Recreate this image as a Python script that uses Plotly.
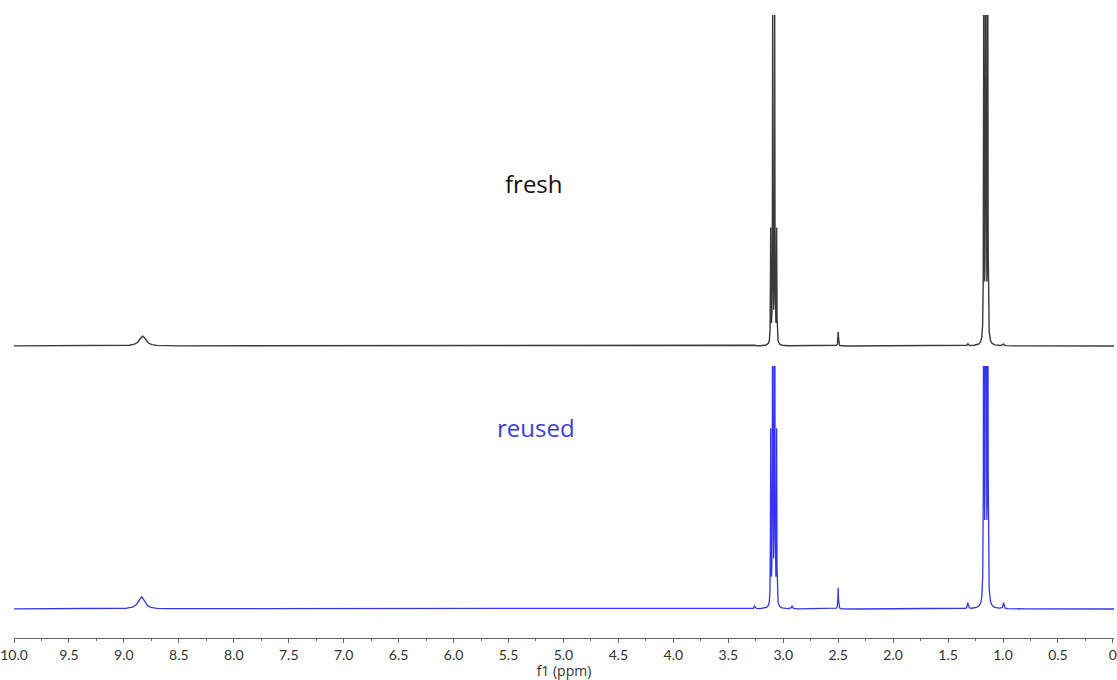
import numpy as np
import plotly.graph_objects as go

# ---------------- data ----------------
TICK_VALUES = [10.0, 9.5, 9.0, 8.5, 8.0, 7.5, 7.0, 6.5, 6.0, 5.5, 5.0,
               4.5, 4.0, 3.5, 3.0, 2.5, 2.0, 1.5, 1.0, 0.5, 0.0]
TICK_LABELS = ["10.0", "9.5", "9.0", "8.5", "8.0", "7.5", "7.0", "6.5", "6.0", "5.5", "5.0",
               "4.5", "4.0", "3.5", "3.0", "2.5", "2.0", "1.5", "1.0", "0.5", "0"]

# peak lines: chemical shift (ppm), height (relative to clip level), line width (ppm)
FRESH_SHIFTS = [8.83, 3.114, 3.096, 3.078, 3.060, 2.500, 1.175, 1.157, 1.139, 3.255, 2.920, 1.320, 0.995]
FRESH_HEIGHTS = [0.030, 0.34, 1.02, 1.02, 0.34, 0.043, 1.26, 2.52, 1.26, 0.002, 0.001, 0.006, 0.006]
FRESH_WIDTHS = [0.07, 0.0042, 0.0042, 0.0042, 0.0042, 0.006, 0.0042, 0.0042, 0.0042, 0.012, 0.012, 0.010, 0.010]

REUSED_SHIFTS = [8.84, 3.114, 3.096, 3.078, 3.060, 2.500, 1.175, 1.157, 1.139, 3.260, 2.920, 1.320, 0.995]
REUSED_HEIGHTS = [0.050, 0.71, 2.13, 2.13, 0.71, 0.087, 2.60, 5.20, 2.60, 0.012, 0.012, 0.025, 0.025]
REUSED_WIDTHS = [0.07, 0.0040, 0.0040, 0.0040, 0.0040, 0.006, 0.0040, 0.0040, 0.0040, 0.012, 0.012, 0.010, 0.010]

SERIES_NAMES = ["fresh", "reused"]


def spectrum(ppm, shifts, heights, widths):
    y = np.zeros_like(ppm)
    for c, h, w in zip(shifts, heights, widths):
        y += h / (1.0 + (2.0 * (ppm - c) / w) ** 2)
    return y


ppm = np.round(np.arange(10.1, -0.1, -0.0005), 4)
fresh = np.round(spectrum(ppm, FRESH_SHIFTS, FRESH_HEIGHTS, FRESH_WIDTHS), 5)
reused = np.round(spectrum(ppm, REUSED_SHIFTS, REUSED_HEIGHTS, REUSED_WIDTHS), 5)

W, H = 1117, 680
M_L, M_R, M_T, M_B = 8, 0, 0, 42
PLOT_H = H - M_T - M_B
PLOT_W = W - M_L - M_R


def yaxis_setup(base_px, top_px, dom_bottom_px):
    # pixel positions measured from top of the plot area
    dom = [(PLOT_H - dom_bottom_px) / PLOT_H, (PLOT_H - top_px) / PLOT_H]
    scale = base_px - top_px
    lo = -(dom_bottom_px - base_px) / scale
    return dom, [lo, 1.0]


dom1, rng1 = yaxis_setup(346, 15, 351)
dom2, rng2 = yaxis_setup(609, 366, 616)

fig = go.Figure()
fig.add_trace(go.Scatter(x=ppm, y=fresh, mode="lines", name=SERIES_NAMES[0],
                         line=dict(color="#3a3a3a", width=1.4), xaxis="x", yaxis="y",
                         hoverinfo="skip"))
fig.add_trace(go.Scatter(x=ppm, y=reused, mode="lines", name=SERIES_NAMES[1],
                         line=dict(color="#3535ee", width=1.3), xaxis="x", yaxis="y2",
                         hoverinfo="skip"))

fig.update_layout(
    width=W, height=H,
    margin=dict(l=M_L, r=M_R, t=M_T, b=M_B),
    paper_bgcolor="white", plot_bgcolor="white",
    showlegend=False,
    xaxis=dict(
        range=[10.0, -0.01], anchor="free", position=0,
        showgrid=False, zeroline=False,
        showline=True, linecolor="#666666", linewidth=1,
        ticks="outside", ticklen=4, tickwidth=1, tickcolor="#666666",
        tickvals=TICK_VALUES, ticktext=TICK_LABELS,
        ticklabeloverflow="allow",
        tickfont=dict(family="Lato", size=14, color="#333333"),
        minor=dict(dtick=0.25, tick0=0, ticks="outside", ticklen=2, tickcolor="#666666", showgrid=False),
        title=dict(text="f1 (ppm)", font=dict(family="Open Sans", size=14, color="#333333"), standoff=0),
    ),
    yaxis=dict(domain=dom1, range=rng1, visible=False, fixedrange=True),
    yaxis2=dict(domain=dom2, range=rng2, visible=False, fixedrange=True, anchor="x"),
    annotations=[
        dict(text="fresh", xref="paper", yref="paper", x=(532 - M_L) / PLOT_W,
             y=(PLOT_H - 183) / PLOT_H, xanchor="center", yanchor="middle", showarrow=False,
             font=dict(family="Open Sans", size=24, color="#111111")),
        dict(text="reused", xref="paper", yref="paper", x=(534 - M_L) / PLOT_W,
             y=(PLOT_H - 428) / PLOT_H, xanchor="center", yanchor="middle", showarrow=False,
             font=dict(family="Open Sans", size=24, color="#3c3cdc")),
    ],
)

fig.write_html("out.html")
